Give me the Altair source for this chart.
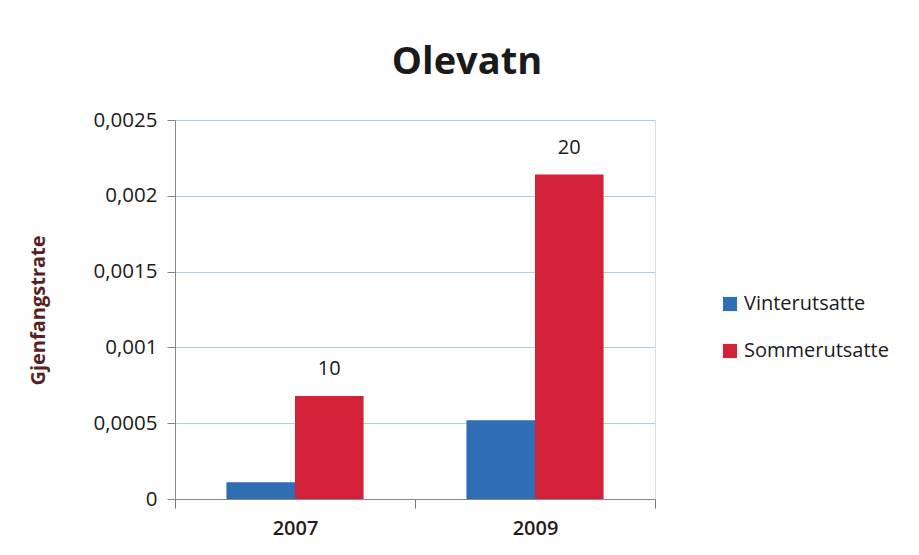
import altair as alt
import pandas as pd

years = ["2007", "2007", "2009", "2009"]
groups = ["Vinterutsatte", "Sommerutsatte", "Vinterutsatte", "Sommerutsatte"]
rates = [0.00011, 0.00068, 0.00052, 0.00214]
bar_labels = ["", "10", "", "20"]
series_order = ["Vinterutsatte", "Sommerutsatte"]
series_colors = ["#2f6db5", "#d3213a"]
y_ticks = [0, 0.0005, 0.001, 0.0015, 0.002, 0.0025]

df = pd.DataFrame({"year": years, "group": groups, "rate": rates, "label": bar_labels})

FONT = "Open Sans"

x_enc = alt.X(
    "year:N",
    title=None,
    scale=alt.Scale(paddingInner=0, paddingOuter=0),
    axis=alt.Axis(
        labelAngle=0, labelFontSize=20, labelFont=FONT, labelColor="#2a1a1a",
        labelFontWeight=600, labelPadding=10, tickBand="extent", tickSize=9,
        tickColor="#777", domainColor="#888", grid=False, gridColor="transparent",
    ),
)
xo_enc = alt.XOffset(
    "group:N", sort=series_order,
    scale=alt.Scale(domain=series_order, paddingInner=0, paddingOuter=0.75),
)
y_enc = alt.Y(
    "rate:Q",
    scale=alt.Scale(domain=[0, 0.0025], nice=False),
    axis=alt.Axis(
        values=y_ticks,
        labelExpr="replace(format(datum.value, '.4~f'), '.', ',')",
        labelFontSize=20.5, labelFont=FONT, labelColor="#1a1a1a", labelPadding=10,
        tickSize=8, tickColor="#888", domainColor="#888",
        gridColor="#a9d3df", gridWidth=1.2,
        title="Gjenfangstrate", titleFont=FONT, titleFontSize=20, titleFontWeight="bold",
        titleColor="#5a1f22", titleAngle=-90, titleX=-137, titleY=190,
        titleAlign="center", titleBaseline="middle",
    ),
)

bars = alt.Chart(df).mark_bar().encode(
    x=x_enc,
    xOffset=xo_enc,
    y=y_enc,
    color=alt.Color(
        "group:N",
        sort=series_order,
        scale=alt.Scale(domain=series_order, range=series_colors),
        legend=alt.Legend(
            orient="none", legendX=545, legendY=174, title=None,
            labelFontSize=20, labelFont=FONT, labelColor="#1a1a1a",
            symbolType="square", symbolSize=200, symbolStrokeWidth=0,
            rowPadding=27, labelOffset=4,
        ),
    ),
)

text = alt.Chart(df).mark_text(dy=-27, fontSize=20, font=FONT, color="#1a1a1a").encode(
    x=x_enc,
    xOffset=xo_enc,
    y=y_enc,
    text="label:N",
)

chart = (
    alt.layer(bars, text)
    .properties(
        width=480,
        height=379,
        title=alt.TitleParams(
            "Olevatn", font=FONT, fontSize=38, fontWeight="bold", color="#1a1a1a",
            anchor="middle", dx=52, offset=28,
        ),
        autosize=alt.AutoSizeParams(type="none"),
        padding={"left": 167, "top": 112, "right": 256, "bottom": 48},
    )
    .configure_view(stroke="transparent", strokeOpacity=0)
    .configure_axisX(grid=False, gridColor="transparent")
    .configure(background="white")
)

chart.save("out.html", embed_options={"renderer": "svg", "actions": False})
